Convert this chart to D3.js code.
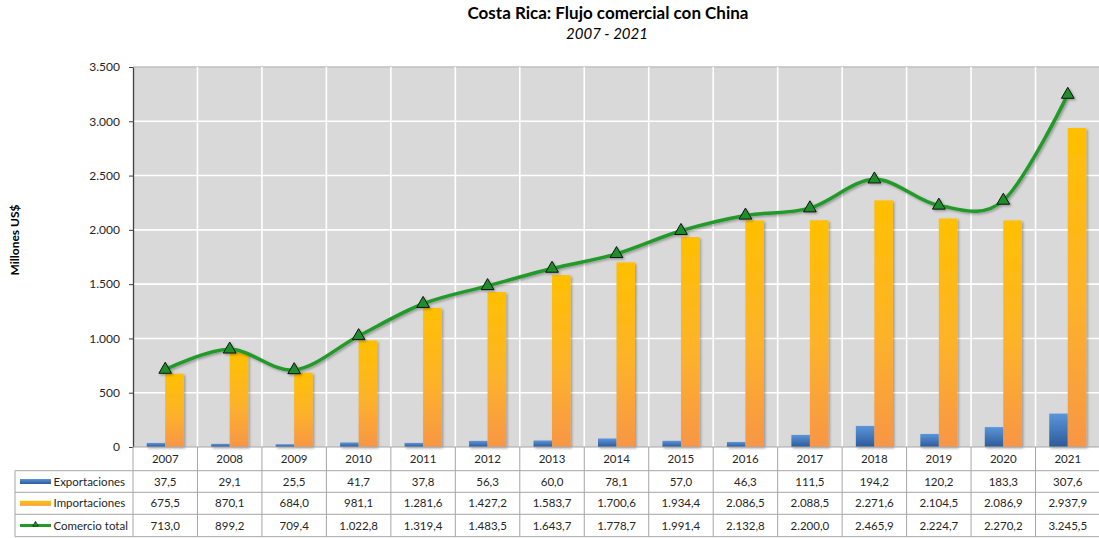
<!DOCTYPE html>
<html>
<head>
<meta charset="utf-8">
<script src="https://cdn.jsdelivr.net/npm/d3@7"></script>
<style>
    body { margin: 0; background: #fff; }
    text { font-family: Lato, "Open Sans", sans-serif; fill: #262626; }
</style>
</head>
<body>
<svg id="chart" width="1099" height="538"></svg>
<script>
// ----- data
var years = ["2007", "2008", "2009", "2010", "2011", "2012", "2013", "2014", "2015", "2016", "2017", "2018", "2019", "2020", "2021"];
var exportaciones = [37.5, 29.1, 25.5, 41.7, 37.8, 56.3, 60.0, 78.1, 57.0, 46.3, 111.5, 194.2, 120.2, 183.3, 307.6];
var importaciones = [675.5, 870.1, 684.0, 981.1, 1281.6, 1427.2, 1583.7, 1700.6, 1934.4, 2086.5, 2088.5, 2271.6, 2104.5, 2086.9, 2937.9];
var comercioTotal = [713.0, 899.2, 709.4, 1022.8, 1319.4, 1483.5, 1643.7, 1778.7, 1991.4, 2132.8, 2200.0, 2465.9, 2224.7, 2270.2, 3245.5];
var yTicks = [0, 500, 1000, 1500, 2000, 2500, 3000, 3500];
var seriesNames = ["Exportaciones", "Importaciones", "Comercio total"];

drawChart();

function drawChart() {
    var es = d3.formatLocale({ decimal: ",", thousands: ".", grouping: [3], currency: ["", ""] });
    var fmtVal = es.format(",.1f");
    var fmtTick = es.format(",d");

    var svg = d3.select("#chart");
    var plotL = 133, plotR = 1100, plotT = 67, plotB = 447;
    var rowTops = [447, 470.7, 492.3, 514.3, 536.7];
    var legendLeft = 15;

    var x = d3.scaleBand().domain(years).range([plotL, plotR]);
    var y = d3.scaleLinear().domain([0, 3500]).range([plotB, plotT]);
    var barW = 18.5;
    var cx = function (i) { return x(years[i]) + x.bandwidth() / 2; };

    // ----- defs: gradients + shadow
    var defs = svg.append("defs");
    var gBlue = defs.append("linearGradient").attr("id", "gBlue").attr("x1", 0).attr("y1", 0).attr("x2", 0).attr("y2", 1);
    gBlue.append("stop").attr("offset", "0%").attr("stop-color", "#5b95da");
    gBlue.append("stop").attr("offset", "100%").attr("stop-color", "#2c5a99");
    var gOrange = defs.append("linearGradient").attr("id", "gOrange").attr("x1", 0).attr("y1", 0).attr("x2", 0).attr("y2", 1);
    gOrange.append("stop").attr("offset", "0%").attr("stop-color", "#ffc000");
    gOrange.append("stop").attr("offset", "55%").attr("stop-color", "#fdb22a");
    gOrange.append("stop").attr("offset", "100%").attr("stop-color", "#f79646");
    var shadow = defs.append("filter").attr("id", "shadow").attr("x", "-20%").attr("y", "-20%").attr("width", "140%").attr("height", "140%");
    shadow.append("feDropShadow").attr("dx", 1.5).attr("dy", 1.5).attr("stdDeviation", 1.2).attr("flood-color", "#000").attr("flood-opacity", 0.3);

    // ----- titles
    svg.append("text").attr("x", 608).attr("y", 19).attr("text-anchor", "middle")
        .style("font-size", "17px").style("font-weight", "bold").style("fill", "#000")
        .text("Costa Rica: Flujo comercial con China");
    svg.append("text").attr("x", 607).attr("y", 39).attr("text-anchor", "middle")
        .style("font-size", "15px").style("font-style", "italic").style("fill", "#000")
        .text("2007 - 2021");
    svg.append("text").attr("transform", "translate(19,240) rotate(-90)").attr("text-anchor", "middle")
        .style("font-size", "12px").style("font-weight", "bold").style("fill", "#000")
        .text("Millones US$");

    // ----- plot area
    svg.append("rect").attr("x", plotL).attr("y", plotT).attr("width", plotR - plotL).attr("height", plotB - plotT)
        .attr("fill", "#d9d9d9");
    svg.append("line").attr("x1", plotL).attr("x2", plotR).attr("y1", plotT).attr("y2", plotT)
        .attr("stroke", "#bfbfbf").attr("stroke-width", 1.5);

    // grid
    svg.append("g").selectAll("line").data(yTicks.slice(1, -1)).enter().append("line")
        .attr("x1", plotL).attr("x2", plotR)
        .attr("y1", function (d) { return y(d); }).attr("y2", function (d) { return y(d); })
        .attr("stroke", "#fff").attr("stroke-width", 1.6);
    svg.append("g").selectAll("line").data(years.slice(1)).enter().append("line")
        .attr("x1", function (d) { return x(d); }).attr("x2", function (d) { return x(d); })
        .attr("y1", plotT).attr("y2", plotB)
        .attr("stroke", "#fff").attr("stroke-width", 1.6);

    // y axis
    var yAxis = svg.append("g").attr("transform", "translate(" + plotL + ",0)")
        .call(d3.axisLeft(y).tickValues(yTicks).tickFormat(fmtTick).tickSizeInner(4).tickSizeOuter(0).tickPadding(9));
    yAxis.select(".domain").attr("stroke", "#404040").attr("stroke-width", 1.3);
    yAxis.selectAll(".tick line").attr("stroke", "#404040");
    yAxis.selectAll(".tick text").style("font-size", "12px").style("font-family", "Lato, sans-serif").attr("fill", "#262626");

    // bars
    var bars = svg.append("g").attr("filter", "url(#shadow)");
    bars.selectAll(".exp").data(exportaciones).enter().append("rect")
        .attr("class", "exp")
        .attr("x", function (d, i) { return cx(i) - barW; })
        .attr("y", function (d) { return y(d); })
        .attr("width", barW)
        .attr("height", function (d) { return plotB - y(d); })
        .attr("fill", "url(#gBlue)");
    bars.selectAll(".imp").data(importaciones).enter().append("rect")
        .attr("class", "imp")
        .attr("x", function (d, i) { return cx(i); })
        .attr("y", function (d) { return y(d); })
        .attr("width", barW)
        .attr("height", function (d) { return plotB - y(d); })
        .attr("fill", "url(#gOrange)");

    // line (Excel-style smoothing)
    var line = d3.line()
        .curve(d3.curveCardinal.tension(0))
        .x(function (d, i) { return cx(i); })
        .y(function (d) { return y(d); });
    var lineG = svg.append("g").attr("filter", "url(#shadow)");
    lineG.append("path").datum(comercioTotal)
        .attr("d", line).attr("fill", "none").attr("stroke", "#229a2a").attr("stroke-width", 3.5);
    var tri = d3.symbol().type(d3.symbolTriangle).size(70);
    lineG.selectAll(".mk").data(comercioTotal).enter().append("path")
        .attr("class", "mk")
        .attr("d", tri)
        .attr("transform", function (d, i) { return "translate(" + cx(i) + "," + y(d) + ")"; })
        .attr("fill", "#1f8f2a").attr("stroke", "#111").attr("stroke-width", 1);

    // ----- data table
    var tbl = svg.append("g");
    var border = "#a6a6a6";
    tbl.append("line").attr("x1", plotL).attr("x2", plotR).attr("y1", rowTops[0]).attr("y2", rowTops[0]).attr("stroke", border);
    rowTops.slice(1).forEach(function (ry) {
        tbl.append("line").attr("x1", legendLeft).attr("x2", plotR).attr("y1", ry).attr("y2", ry).attr("stroke", border);
    });
    tbl.selectAll(".vl").data(years.slice(1)).enter().append("line")
        .attr("x1", function (d) { return x(d); }).attr("x2", function (d) { return x(d); })
        .attr("y1", rowTops[0]).attr("y2", rowTops[4])
        .attr("stroke", border);
    tbl.append("line").attr("x1", plotL).attr("x2", plotL).attr("y1", rowTops[0]).attr("y2", rowTops[4]).attr("stroke", border);
    tbl.append("line").attr("x1", legendLeft).attr("x2", legendLeft).attr("y1", rowTops[1]).attr("y2", rowTops[4]).attr("stroke", border);

    // year header
    tbl.selectAll(".yr").data(years).enter().append("text")
        .attr("x", function (d, i) { return cx(i); })
        .attr("y", (rowTops[0] + rowTops[1]) / 2 + 4)
        .attr("text-anchor", "middle").style("font-size", "11.5px")
        .text(function (d) { return d; });

    var rows = [exportaciones, importaciones, comercioTotal];
    rows.forEach(function (vals, r) {
        var cy = (rowTops[r + 1] + rowTops[r + 2]) / 2 + 4;
        tbl.selectAll(".v" + r).data(vals).enter().append("text")
            .attr("x", function (d, i) { return cx(i); })
            .attr("y", cy)
            .attr("text-anchor", "middle").style("font-size", "11.5px")
            .text(function (d) { return fmtVal(d); });
        tbl.append("text").attr("x", 53.5).attr("y", cy).style("font-size", "11.5px").text(seriesNames[r]);
    });

    // legend keys
    var k1 = (rowTops[1] + rowTops[2]) / 2, k2 = (rowTops[2] + rowTops[3]) / 2, k3 = (rowTops[3] + rowTops[4]) / 2;
    tbl.append("rect").attr("x", 20).attr("y", k1 - 2.5).attr("width", 31).attr("height", 5).attr("fill", "url(#gBlue)");
    tbl.append("rect").attr("x", 20).attr("y", k2 - 2.5).attr("width", 31).attr("height", 5).attr("fill", "url(#gOrange)");
    tbl.append("line").attr("x1", 20).attr("x2", 51).attr("y1", k3).attr("y2", k3).attr("stroke", "#229a2a").attr("stroke-width", 3);
    tbl.append("path").attr("d", d3.symbol().type(d3.symbolTriangle).size(14))
        .attr("transform", "translate(35.5," + (k3 - 1) + ")")
        .attr("fill", "#1f8f2a").attr("stroke", "#111").attr("stroke-width", 0.6);
}
</script>
</body>
</html>
